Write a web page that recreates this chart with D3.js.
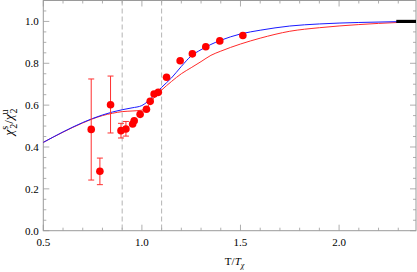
<!DOCTYPE html>
<html>
<head>
<style>
  body { margin: 0; background: #fff; }
  svg text { font-family: "Liberation Serif", "Times New Roman", Times, serif; }
</style>
</head>
<body>
<div id="chart"></div>
<script src="https://d3js.org/d3.v7.min.js"></script>
<script>
// lattice points (T/Tchi, ratio) and error bars
var ptT   = [0.743, 0.787, 0.841, 0.894, 0.919, 0.953, 0.961, 0.991, 1.023, 1.042, 1.062, 1.083, 1.125, 1.194, 1.256, 1.324, 1.395, 1.512];
var ptV   = [0.484, 0.284, 0.602, 0.478, 0.486, 0.510, 0.525, 0.556, 0.580, 0.618, 0.653, 0.661, 0.733, 0.812, 0.845, 0.879, 0.907, 0.933];
var errLo = [0.242, 0.220, 0.467, 0.443, 0.452, null, null, null, null, null, null, null, null, null, null, null, null, null];
var errHi = [0.725, 0.347, 0.739, 0.513, 0.522, null, null, null, null, null, null, null, null, null, null, null, null, null];

// model curves
var curveT = [0.5, 0.6, 0.7, 0.8, 0.85, 0.9, 0.95, 1.0, 1.03, 1.06, 1.1, 1.15, 1.2, 1.25, 1.3, 1.35, 1.4, 1.5, 1.6, 1.75, 1.9, 2.1, 2.3, 2.39];
var blueV  = [0.422, 0.472, 0.517, 0.553, 0.567, 0.578, 0.587, 0.598, 0.618, 0.645, 0.685, 0.73, 0.785, 0.835, 0.865, 0.89, 0.91, 0.94, 0.958, 0.978, 0.988, 0.995, 0.999, 1.0];
var redV   = [0.422, 0.471, 0.515, 0.550, 0.561, 0.569, 0.572, 0.576, 0.595, 0.633, 0.672, 0.713, 0.75, 0.779, 0.808, 0.838, 0.858, 0.892, 0.92, 0.953, 0.97, 0.985, 0.995, 0.998];

var dashedT = [0.9, 1.1];
var limitT = [2.29, 2.39], limitV = 1.0;

var xTicks = [0.5, 1.0, 1.5, 2.0];
var yTicks = [0.0, 0.2, 0.4, 0.6, 0.8, 1.0];

var W = 417, H = 272;
var margin = {top: 0.5, right: 1, bottom: 41.3, left: 43.3};
var width = W - margin.left - margin.right,
    height = H - margin.top - margin.bottom;

var x = d3.scaleLinear().domain([0.5, 2.39]).range([0, width]);
var y = d3.scaleLinear().domain([0, 1.1]).range([height, 0]);

var svg = d3.select("#chart").append("svg")
  .attr("width", W).attr("height", H)
  .attr("font-size", 11)
  .append("g")
  .attr("transform", "translate(" + margin.left + "," + margin.top + ")");

var frameColor = "#9a9a9a";

// minor/major ticks on all four sides
var xMinor = d3.range(0.5, 2.391, 0.1).map(function(d){ return +d.toFixed(2); });
var yMinor = d3.range(0, 1.101, 0.05).map(function(d){ return +d.toFixed(2); });
function isMajor(v, list){ return list.some(function(t){ return Math.abs(t - v) < 1e-6; }); }

var ticks = svg.append("g").attr("stroke", frameColor).attr("stroke-width", 0.8);
xMinor.forEach(function(v){
  var len = isMajor(v, xTicks) ? 6 : 3;
  ticks.append("line").attr("x1", x(v)).attr("x2", x(v)).attr("y1", height).attr("y2", height - len);
  ticks.append("line").attr("x1", x(v)).attr("x2", x(v)).attr("y1", 0).attr("y2", len);
});
yMinor.forEach(function(v){
  var len = isMajor(v, yTicks) ? 6 : 3;
  ticks.append("line").attr("x1", 0).attr("x2", len).attr("y1", y(v)).attr("y2", y(v));
  ticks.append("line").attr("x1", width).attr("x2", width - len).attr("y1", y(v)).attr("y2", y(v));
});

// frame
svg.append("rect").attr("x", 0).attr("y", 0).attr("width", width).attr("height", height)
  .attr("fill", "none").attr("stroke", frameColor).attr("stroke-width", 1);

// tick labels
svg.selectAll(".xl").data(xTicks).enter().append("text")
  .attr("x", function(d){ return x(d); }).attr("y", height + 15.5)
  .attr("text-anchor", "middle").text(function(d){ return d.toFixed(1); });
svg.selectAll(".yl").data(yTicks).enter().append("text")
  .attr("x", -4.5).attr("y", function(d){ return y(d); }).attr("dy", "0.35em")
  .attr("text-anchor", "end").text(function(d){ return d.toFixed(1); });

// dashed markers
svg.selectAll(".dash").data(dashedT).enter().append("line")
  .attr("x1", function(d){ return x(d); }).attr("x2", function(d){ return x(d); })
  .attr("y1", 0).attr("y2", height)
  .attr("stroke", "#aaaaaa").attr("stroke-width", 0.9).attr("stroke-dasharray", "5,3");

// curves
var line = d3.line().x(function(d){ return x(d[0]); }).y(function(d){ return y(d[1]); }).curve(d3.curveMonotoneX);
svg.append("path").datum(d3.zip(curveT, redV)).attr("d", line)
  .attr("fill", "none").attr("stroke", "#ff2a2a").attr("stroke-width", 1);
svg.append("path").datum(d3.zip(curveT, blueV)).attr("d", line)
  .attr("fill", "none").attr("stroke", "#1a1aff").attr("stroke-width", 1);

// high-T limit
svg.append("line").attr("x1", x(limitT[0])).attr("x2", x(limitT[1]))
  .attr("y1", y(limitV)).attr("y2", y(limitV))
  .attr("stroke", "#000").attr("stroke-width", 3.2);

// error bars
var pts = ptT.map(function(t, i){ return {t: t, v: ptV[i], lo: errLo[i], hi: errHi[i]}; });
var eb = svg.append("g").attr("stroke", "#ff3030").attr("stroke-width", 1);
pts.filter(function(d){ return d.lo != null; }).forEach(function(d){
  var cx = x(d.t);
  eb.append("line").attr("x1", cx).attr("x2", cx).attr("y1", y(d.lo)).attr("y2", y(d.hi));
  eb.append("line").attr("x1", cx - 3).attr("x2", cx + 3).attr("y1", y(d.lo)).attr("y2", y(d.lo));
  eb.append("line").attr("x1", cx - 3).attr("x2", cx + 3).attr("y1", y(d.hi)).attr("y2", y(d.hi));
});

// points
svg.selectAll(".dot").data(pts).enter().append("circle")
  .attr("cx", function(d){ return x(d.t); }).attr("cy", function(d){ return y(d.v); })
  .attr("r", 3.8).attr("fill", "#ff0000");

// axis titles
var xl = svg.append("text").attr("x", x(1.47)).attr("y", height + 34).attr("text-anchor", "middle");
xl.append("tspan").text("T/");
xl.append("tspan").attr("font-style", "italic").text("T");
xl.append("tspan").attr("font-size", "8px").attr("dy", 3).attr("font-style", "italic").text("χ");

var yl = svg.append("text").attr("transform", "translate(" + (-30) + "," + y(0.52) + ") rotate(-90)")
  .attr("text-anchor", "middle").attr("font-size", 13);
yl.append("tspan").attr("font-style", "italic").text("χ");
yl.append("tspan").attr("font-size", 10).attr("dy", -5).text("s");
yl.append("tspan").attr("font-size", 10).attr("dx", -3).attr("dy", 9).text("2");
yl.append("tspan").attr("dy", -4).text("/");
yl.append("tspan").attr("font-style", "italic").text("χ");
yl.append("tspan").attr("font-size", 10).attr("dy", -5).text("u");
yl.append("tspan").attr("font-size", 10).attr("dx", -4).attr("dy", 9).text("2");
</script>
</body>
</html>
